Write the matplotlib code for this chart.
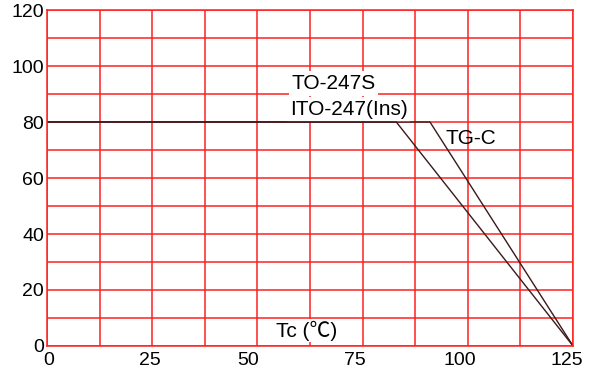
import numpy as np
import matplotlib.pyplot as plt
import matplotlib.transforms as mtransforms

plt.rcParams['font.family'] = ['Liberation Sans', 'Noto Sans CJK SC', 'DejaVu Sans']

# 降額曲線データ
ito_x = [0, 83, 125]
ito_y = [80, 80, 0]
tgc_x = [0, 91, 125]
tgc_y = [80, 80, 0]

xticks = [0, 25, 50, 75, 100, 125]
yticks = [0, 20, 40, 60, 80, 100, 120]

fig = plt.figure(figsize=(5.92, 3.71), dpi=100)
ax = fig.add_axes([0.0794, 0.0674, 0.8886, 0.9056])

ax.set_xlim(0, 125)
ax.set_ylim(0, 120)

# グリッド
for gx in np.arange(0, 125.1, 12.5):
    ax.axvline(gx, color='#ff2020', lw=1.1, zorder=1)
for gy in np.arange(0, 120.1, 10):
    ax.axhline(gy, color='#ff2020', lw=1.1, zorder=1)
for s in ax.spines.values():
    s.set_color('#ff2020')
    s.set_linewidth(1.1)
    s.set_zorder(6)

ax.plot(ito_x, ito_y, color='#3a1a1a', lw=1.0, zorder=5)
ax.plot(tgc_x, tgc_y, color='#3a1a1a', lw=1.0, zorder=5)

ax.set_xticks(xticks)
ax.set_yticks(yticks)
ax.tick_params(length=0, labelsize=14)
ax.tick_params(axis='x', pad=4)
ax.tick_params(axis='y', pad=2)

# 元図の目盛ラベルは少し左にずれている
shift_px = [2, -2, -9, -8, -8, -6]
for lab, dx in zip(ax.get_xticklabels(), shift_px):
    off = mtransforms.ScaledTranslation(dx / 100, 0, fig.dpi_scale_trans)
    lab.set_transform(lab.get_transform() + off)

box = dict(facecolor='white', edgecolor='none', pad=2)
ax.text(58.1, 93.8, 'TO-247S', fontsize=15, ha='left', va='center', bbox=box, zorder=4)
ax.text(57.7, 84.5, 'ITO-247(Ins)', fontsize=15, ha='left', va='center', bbox=box, zorder=4)
ax.text(94.8, 74.2, 'TG-C', fontsize=15, ha='left', va='center', zorder=4)
ax.text(54.3, 5.5, 'Tc (\u2103)', fontsize=15, ha='left', va='center',
        bbox=dict(facecolor='white', edgecolor='none', pad=1), zorder=4)

fig.savefig('out.png', dpi=100)
